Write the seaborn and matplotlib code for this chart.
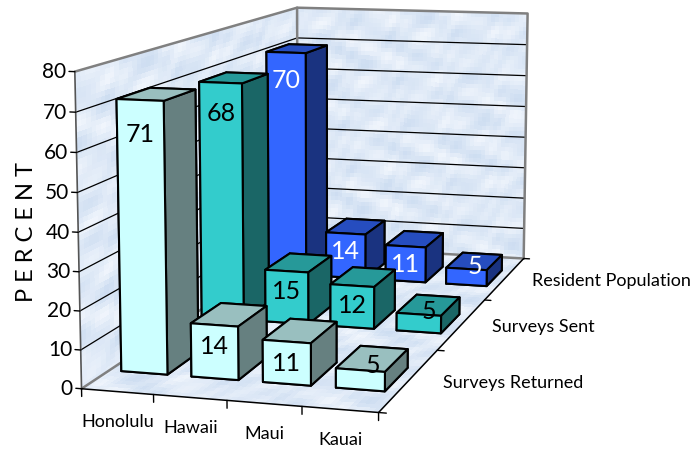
import matplotlib
matplotlib.use('Agg')
import numpy as np
import matplotlib.pyplot as plt
import seaborn as sns
from mpl_toolkits.mplot3d import proj3d

categories = ['Honolulu', 'Hawaii', 'Maui', 'Kauai']
series_names = ['Surveys Returned', 'Surveys Sent', 'Resident Population']
surveys_returned = [71, 14, 11, 5]
surveys_sent = [68, 15, 12, 5]
resident_population = [70, 14, 11, 5]
z_ticks = [0, 10, 20, 30, 40, 50, 60, 70, 80]

W, H = 691, 452
narrow = ['Lato', 'Liberation Sans']

sns.set_theme(style='white')
palette = sns.color_palette(['#CCFFFF', '#33CCCC', '#3366FF'])
label_colors = ['black', 'black', 'white']

fig = plt.figure(figsize=(W / 100, H / 100), dpi=100)
size = 737.93
ax = fig.add_axes([-47.47 / W, -106.42 / H, size / W, size / H], projection='3d')
ax.set_xticks([])
ax.set_yticks([])
ax.set_zticks([])
ax.set_xlim(0, 4)
ax.set_ylim(0, 3)
ax.set_zlim(0, 80)
ax.view_init(elev=9.72, azim=-73.993)
ax.set_proj_type('persp', focal_length=0.5173)
ax.set_box_aspect((1, 2.418, 1.0386))
ax.set_axis_off()
ax.computed_zorder = False


# text placed at a 3D position, drawn in the axes' own 2D view
def label3d(x, y, z, s, **kw):
    px, py, _ = proj3d.proj_transform(x, y, z, ax.get_proj())
    ax.text2D(px, py, s, transform=ax.transData, family=narrow, va='center', **kw)


# mottled wall texture, like the marble fill of the original
def mottle(u, v, light, dark):
    m = (np.sin(u * 23 + np.sin(v * 31) * 2) + np.sin(v * 41 + u * 17)
         + np.sin(u * 67 - v * 53 + np.sin(u * 29)) * 0.7) / 5.4 + 0.5
    light, dark = np.array(light), np.array(dark)
    return dark + (light - dark) * m[..., None]


light = matplotlib.colors.to_rgb('#F0F5FC')
dark = matplotlib.colors.to_rgb('#CDDDF1')
u, v = np.meshgrid(np.linspace(0, 1, 60), np.linspace(0, 1, 60))
surf = dict(rstride=1, cstride=1, linewidth=0, antialiased=False, shade=False, zorder=1)
ax.plot_surface(u * 4, v * 3, u * 0, facecolors=mottle(u, v, light, dark), **surf)
ax.plot_surface(u * 0, u * 3, v * 80, facecolors=mottle(u + 0.3, v, light, dark), **surf)
ax.plot_surface(u * 4, u * 0 + 3, v * 80, facecolors=mottle(u, v + 0.6, light, dark), **surf)

# gridlines and frame
grey = '#808080'
for z in z_ticks[1:-1]:
    ax.plot([0, 0, 4], [0, 3, 3], [z, z, z], color='black', lw=0.9, zorder=2)
for xs, ys, zs in [([0, 0, 4, 4], [0, 3, 3, 3], [80, 80, 80, 0]),
                   ([0, 0], [3, 3], [0, 80]),
                   ([0, 0, 4], [0, 3, 3], [0, 0, 0])]:
    ax.plot(xs, ys, zs, color=grey, lw=1.8, zorder=3)
ax.plot([0, 0], [0, 0], [0, 80], color='#555555', lw=1.2, zorder=3)
ax.plot([0, 4, 4], [0, 0, 3], [0, 0, 0], color='black', lw=1.1, zorder=3)

# ticks
for z in z_ticks:
    ax.plot([-0.08, 0], [0, 0], [z, z], color='black', lw=1, zorder=3)
    label3d(-0.12, 0, z, str(z), ha='right', fontsize=15, color='black', zorder=60)
for i in range(5):
    ax.plot([i, i], [0, 0], [0, -2], color='black', lw=1, zorder=3)
for j in range(4):
    ax.plot([4, 4.1], [j, j], [0, 0], color='black', lw=1, zorder=3)
for i, name in enumerate(categories):
    label3d(i + 0.5, 0, -7.5, name, ha='center', fontsize=13, color='black', zorder=60)
for j, name in enumerate(series_names):
    label3d(4.45, j + 0.5, 0, name, ha='left', fontsize=13, color='black', zorder=60)

# bars, painted from back to front
rows = [surveys_returned, surveys_sent, resident_population]
bar_w, bar_d = 0.66, 0.38
order = 10
for j in [2, 1, 0]:
    c = np.array(palette[j])
    # bottom, top, front, back, left, right
    faces = [c * 0.5, c * 0.75, c, c, c * 0.5, c * 0.5]
    for i, v in enumerate(rows[j]):
        x0 = i + 0.17
        y0 = j + 0.3
        ax.bar3d(x0, y0, 0, bar_w, bar_d, v, color=faces, shade=False,
                 edgecolor='black', linewidth=1.5, zorder=order)
        order += 1
        if v > 20:
            lz = v - 8.5
        elif v > 5:
            lz = v - 5.5
        else:
            lz = v - 1.5
        ly = y0 if v > 5 else y0 + bar_d / 2
        label3d(x0 + bar_w / 2, ly, lz, str(v), ha='center', fontsize=18,
                color=label_colors[j], zorder=order)
        order += 1

fig.text(27 / W, 1 - 232 / H, 'P E R C E N T', rotation=90, ha='center', va='center',
         fontsize=17, family=narrow, color='black')

fig.savefig('out.png', dpi=100)
